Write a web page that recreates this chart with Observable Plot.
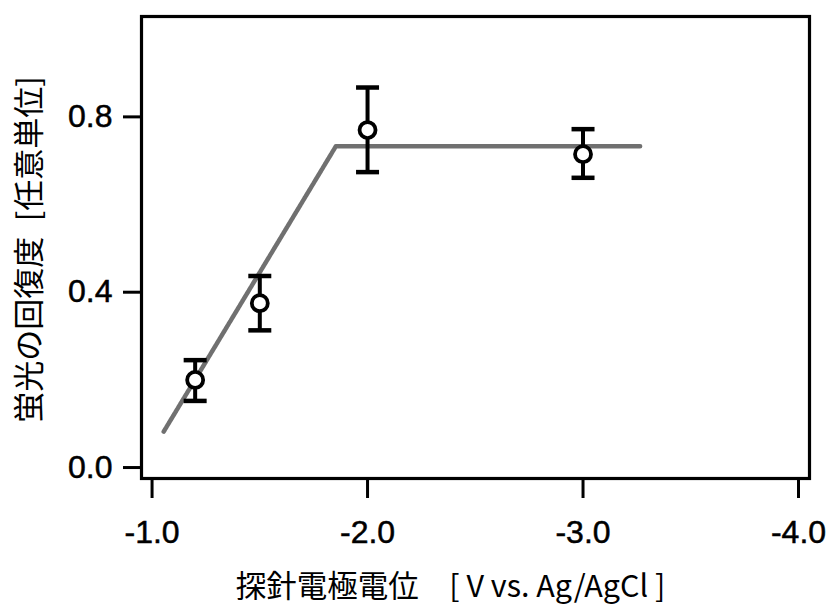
<!DOCTYPE html>
<html>
<head>
<meta charset="utf-8">
<script src="https://cdn.jsdelivr.net/npm/d3@7"></script>
<script src="https://cdn.jsdelivr.net/npm/@observablehq/plot@0.6"></script>
<style>
  body { margin: 0; background: #fff; }
  #chart { width: 830px; height: 605px; }
  #chart g[aria-label="x-axis tick label"] text,
  #chart g[aria-label="y-axis tick label"] text {
    font-family: "Liberation Sans", Arial, Helvetica, sans-serif;
    font-size: 32px; fill: #000; stroke: #000; stroke-width: 0.5px;
  }
</style>
</head>
<body>
<div id="chart"></div>
<script>
// Data
const potential = [-1.2, -1.5, -2.0, -3.0];
const recovery = [0.20, 0.375, 0.77, 0.715];
const errLow = [0.152, 0.313, 0.674, 0.661];
const errHigh = [0.245, 0.437, 0.867, 0.772];

// Fitted guide line (piecewise)
const fitX = [-1.054, -1.853, -3.265];
const fitY = [0.082, 0.733, 0.733];

const xTicks = [-1, -2, -3, -4];
const yTicks = [0, 0.4, 0.8];

const xLabel = "探針電極電位　[ V vs. Ag/AgCl ]";
const yLabel = "蛍光の回復度\u2002[任意単位]";

const points = potential.map((x, i) => ({x, y: recovery[i], lo: errLow[i], hi: errHigh[i]}));
const fit = fitX.map((x, i) => ({x, y: fitY[i]}));

// horizontal cap symbol for error bars
const cap = {draw(ctx, size) { const w = 11.5; ctx.moveTo(-w, 0); ctx.lineTo(w, 0); }};

const chart = Plot.plot({
  width: 830,
  height: 605,
  marginLeft: 141,
  marginRight: 21,
  marginTop: 16,
  marginBottom: 127,
  style: {fontFamily: "'Liberation Sans', Arial, sans-serif", fontSize: "32px", color: "#000", background: "#fff"},
  x: {type: "linear", domain: [-0.951, -4.051], label: null},
  y: {type: "linear", domain: [-0.025, 1.029], label: null},
  marks: [
    Plot.line(fit, {x: "x", y: "y", stroke: "#707070", strokeWidth: 4.5, strokeDasharray: "1.6,0.9"}),
    Plot.ruleX(points, {x: "x", y1: "lo", y2: "hi", stroke: "#000", strokeWidth: 4}),
    Plot.dot(points, {x: "x", y: "lo", symbol: cap, stroke: "#000", strokeWidth: 4.5, r: 5}),
    Plot.dot(points, {x: "x", y: "hi", symbol: cap, stroke: "#000", strokeWidth: 4.5, r: 5}),
    Plot.dot(points, {x: "x", y: "y", r: 8, stroke: "#000", strokeWidth: 3.8, fill: "#fff"}),
    Plot.frame({stroke: "#000", strokeWidth: 3.2}),
    Plot.axisX(xTicks, {tickFormat: d => d.toFixed(1), tickSize: 20, tickPadding: 22, strokeWidth: 3, label: null}),
    Plot.axisY(yTicks, {tickFormat: d => d.toFixed(1), tickSize: 18, tickPadding: 11, strokeWidth: 3, label: null}),
    Plot.text([xLabel], {frameAnchor: "bottom", dx: -25, dy: 118, text: d => d, fontSize: 30.5, fontFamily: "'Noto Sans CJK JP', sans-serif", fill: "#000"}),
    Plot.text([yLabel], {frameAnchor: "left", textAnchor: "middle", dx: -111, dy: 2, rotate: -90, text: d => d, fontSize: 31, fontFamily: "'Noto Sans CJK JP', sans-serif", fill: "#000"})
  ]
});
document.getElementById("chart").append(chart);
</script>
</body>
</html>
